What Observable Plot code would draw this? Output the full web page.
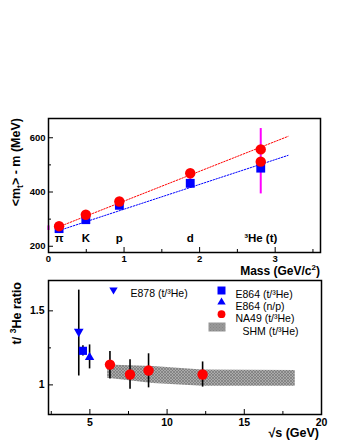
<!DOCTYPE html>
<html><head><meta charset="utf-8">
<script src="https://cdn.jsdelivr.net/npm/d3@7"></script>
<script src="https://cdn.jsdelivr.net/npm/@observablehq/plot@0.6"></script>
<style>
body{margin:0;background:#fff;}
#wrap{position:relative;width:345px;height:446px;}
#wrap svg{position:absolute;left:0;background:transparent;}
</style></head><body><div id="wrap"></div>
<script>
// ---------- top panel data ----------
const particles = ["π", "K", "p", "d", "³He (t)"];
const particleMass = [0.14, 0.494, 0.938, 1.876, 2.809];
const blueMt = [265, 298, 351, 432, 488];
const redMass = [0.14, 0.494, 0.938, 1.876, 2.809, 2.809];
const redMt = [274, 316, 365, 469, 557, 512];
const errMass = [0, 1.876, 2.809];
const errLo = [258, 414, 393];
const errHi = [275, 450, 634];
const fitMass = [0.14, 3.17];
const redFit = [272, 605];
const blueFit = [258, 535];
const topYMajor = [200, 400, 600];
const topYMinor = [300, 500];
const topXMajor = [1, 2, 3];
const topXMinor = [0.5, 1.5, 2.5, 3.5];
const topXLabels = [0, 1, 2, 3];

// ---------- bottom panel data ----------
const e878S = [4.28], e878R = [1.36], e878Lo = [1.06], e878Hi = [1.64];
const e864tS = [4.55], e864tR = [1.23], e864tLo = [1.195], e864tHi = [1.265];
const e864nS = [4.98], e864nR = [1.186], e864nLo = [1.108], e864nHi = [1.27];
const na49S = [6.3, 7.6, 8.8, 12.3];
const na49R = [1.137, 1.07, 1.097, 1.07];
const na49Lo = [1.04, 0.97, 0.98, 0.985];
const na49Hi = [1.225, 1.17, 1.21, 1.155];
const shmS = [6.15, 9.1, 12.3, 18.3];
const shmLo = [1.045, 1.01, 0.99, 0.99];
const shmHi = [1.135, 1.124, 1.10, 1.097];
const botXMajor = [5, 10, 15];
const botXMinor = [2.5, 7.5, 12.5, 17.5];
const botXLabels = [5, 10, 15, 20];
const botYMajor = [1, 1.5];
const botYMinor = [1.25];
const legendLabels = ["E878 (t/³He)", "E864 (t/³He)", "E864 (n/p)", "NA49 (t/³He)", "SHM (t/³He)"];

const FONT = "'Liberation Sans', Arial, Helvetica, sans-serif";
const BLUE = "#0000ff", RED = "#ff0000", MAG = "#ff00ff";

// ---------- top panel ----------
const T = {w: 345, h: 278, mt: 118, mb: 26, ml: 48, mr: 25};
const tInnerW = T.w - T.ml - T.mr, tInnerH = T.h - T.mt - T.mb;
const blueData = particleMass.map((m, i) => ({m, v: blueMt[i]}));
const redData = redMass.map((m, i) => ({m, v: redMt[i]}));
const errData = errMass.map((m, i) => ({m, lo: errLo[i], hi: errHi[i]}));
const redLine = fitMass.map((m, i) => ({m, v: redFit[i]}));
const blueLine = fitMass.map((m, i) => ({m, v: blueFit[i]}));

const topSvg = Plot.plot({
  width: T.w, height: T.h,
  marginTop: T.mt, marginBottom: T.mb, marginLeft: T.ml, marginRight: T.mr,
  style: {background: "transparent", fontFamily: FONT, color: "#000"},
  x: {domain: [0, 3.6]},
  y: {domain: [177, 671]},
  marks: [
    Plot.tickY(topYMajor, {y: d => d, insetRight: tInnerW - 5, stroke: "#000"}),
    Plot.tickY(topYMinor, {y: d => d, insetRight: tInnerW - 3, stroke: "#000"}),
    Plot.tickX(topXMajor, {x: d => d, insetTop: tInnerH - 5, stroke: "#000"}),
    Plot.tickX(topXMinor, {x: d => d, insetTop: tInnerH - 3, stroke: "#000"}),
    Plot.axisY({ticks: topYMajor, tickSize: 0, tickPadding: 3, fontSize: 9.5, fontWeight: "bold", label: null, tickFormat: d => String(d)}),
    Plot.axisX({ticks: topXLabels, tickSize: 0, tickPadding: 3, fontSize: 9.5, fontWeight: "bold", label: null, tickFormat: d => String(d)}),
    Plot.ruleX(errData, {x: "m", y1: "lo", y2: "hi", stroke: MAG, strokeWidth: 2}),
    Plot.line(blueLine, {x: "m", y: "v", stroke: BLUE, strokeWidth: 1, strokeDasharray: "1.5,1.5"}),
    Plot.line(redLine, {x: "m", y: "v", stroke: RED, strokeWidth: 1, strokeDasharray: "1.5,1.5"}),
    Plot.dot(blueData, {x: "m", y: "v", symbol: "square", r: 5, fill: BLUE, stroke: "none"}),
    Plot.dot(redData, {x: "m", y: "v", r: 5.2, fill: RED, stroke: "none"}),
    Plot.text(particles, {x: particleMass, text: d => d, frameAnchor: "bottom", dy: -11, fontSize: 11.5, fontWeight: "bold"}),
    Plot.frame({stroke: "#000", strokeWidth: 1.5})
  ]
});

// ---------- bottom panel ----------
const B = {top: 270, w: 345, h: 176, mt: 10, mb: 32, ml: 48, mr: 24};
const bInnerW = B.w - B.ml - B.mr, bInnerH = B.h - B.mt - B.mb;
const mk = (S, R, Lo, Hi) => S.map((s, i) => ({s, r: R[i], lo: Lo[i], hi: Hi[i]}));
const e878 = mk(e878S, e878R, e878Lo, e878Hi);
const e864t = mk(e864tS, e864tR, e864tLo, e864tHi);
const e864n = mk(e864nS, e864nR, e864nLo, e864nHi);
const na49 = mk(na49S, na49R, na49Lo, na49Hi);
const shm = shmS.map((s, i) => ({s, lo: shmLo[i], hi: shmHi[i]}));

const legText = (label, dx, dy) => Plot.text([label], {frameAnchor: "top-left", dx, dy, text: d => d, textAnchor: "start", fontSize: 10.5});

const botSvg = Plot.plot({
  width: B.w, height: B.h,
  marginTop: B.mt, marginBottom: B.mb, marginLeft: B.ml, marginRight: B.mr,
  style: {background: "transparent", fontFamily: FONT, color: "#000"},
  x: {domain: [2.32, 20]},
  y: {domain: [0.8, 1.705]},
  marks: [
    Plot.areaY(shm, {x: "s", y1: "lo", y2: "hi", fill: "url(#hatch)"}),
    Plot.tickY(botYMajor, {y: d => d, insetRight: bInnerW - 5, stroke: "#000"}),
    Plot.tickY(botYMinor, {y: d => d, insetRight: bInnerW - 3, stroke: "#000"}),
    Plot.tickX(botXMajor, {x: d => d, insetTop: bInnerH - 5, stroke: "#000"}),
    Plot.tickX(botXMinor, {x: d => d, insetTop: bInnerH - 3, stroke: "#000"}),
    Plot.axisY({ticks: botYMajor, tickSize: 0, tickPadding: 4, fontSize: 10.5, fontWeight: "bold", label: null, tickFormat: d => String(d)}),
    Plot.axisX({ticks: botXLabels, tickSize: 0, tickPadding: 4, fontSize: 10.5, fontWeight: "bold", label: null, tickFormat: d => String(d)}),
    Plot.ruleX([...e878, ...e864t, ...e864n, ...na49], {x: "s", y1: "lo", y2: "hi", stroke: "#000", strokeWidth: 1.6}),
    Plot.dot(e878, {x: "s", y: "r", symbol: "triangle", rotate: 180, r: 3.6, fill: BLUE, stroke: "none"}),
    Plot.dot(e864t, {x: "s", y: "r", symbol: "square", r: 4.6, fill: BLUE, stroke: "none"}),
    Plot.dot(e864n, {x: "s", y: "r", symbol: "triangle", r: 3.5, fill: BLUE, stroke: "none"}),
    Plot.dot(na49, {x: "s", y: "r", r: 5.2, fill: RED, stroke: "none"}),
    // legend
    Plot.dot([legendLabels[0]], {frameAnchor: "top-left", dx: 65, dy: 9.3, symbol: "triangle", rotate: 180, r: 3.1, fill: BLUE}),
    legText(legendLabels[0], 82, 9.3),
    Plot.dot([legendLabels[1]], {frameAnchor: "top-left", dx: 173, dy: 10, symbol: "square", r: 4.5, fill: BLUE}),
    legText(legendLabels[1], 187, 10),
    Plot.dot([legendLabels[2]], {frameAnchor: "top-left", dx: 173, dy: 21.7, symbol: "triangle", r: 3.1, fill: BLUE}),
    legText(legendLabels[2], 187, 21.7),
    Plot.dot([legendLabels[3]], {frameAnchor: "top-left", dx: 173, dy: 33.7, r: 3.9, fill: RED}),
    legText(legendLabels[3], 187, 33.7),
    Plot.frame({fill: "url(#hatch)", stroke: "none", insetLeft: 160, insetRight: bInnerW - 177, insetTop: 42, insetBottom: bInnerH - 51}),
    legText(legendLabels[4], 194, 46.7),
    Plot.frame({stroke: "#000", strokeWidth: 1.5})
  ]
});

// hatch pattern for SHM band
const defs = d3.select(botSvg).insert("defs", ":first-child");
const pat = defs.append("pattern").attr("id", "hatch").attr("patternUnits", "userSpaceOnUse").attr("width", 3).attr("height", 3);
pat.append("rect").attr("width", 3).attr("height", 3).attr("fill", "#aaaaaa");
pat.append("path").attr("d", "M0,3L3,0M0,0L3,3").attr("stroke", "#6e6e6e").attr("stroke-width", 0.6);

// axis titles (with sub/superscripts as real text)
function title(svg, transform, anchor, parts, size) {
  const t = d3.select(svg).append("text").attr("transform", transform).attr("text-anchor", anchor)
    .attr("font-family", FONT).attr("font-weight", "bold").attr("font-size", size).attr("fill", "#000");
  parts.forEach(([s, dy, fs]) => { const ts = t.append("tspan").text(s); if (dy) ts.attr("dy", dy); if (fs) ts.attr("font-size", fs); });
}
title(topSvg, "translate(20,118) rotate(-90)", "end", [["<m"], ["t", 3, 8.5], [">", -3], [" - m (MeV)"]], 12.5);
title(topSvg, "translate(320,275)", "end", [["Mass (GeV/c"], ["2", -5, 8], [")", 5]], 12);
title(botSvg, "translate(21,12) rotate(-90)", "end", [["t/ "], ["3", -5, 8.5], ["He ratio", 5]], 12.5);
title(botSvg, "translate(319,167)", "end", [["√s (GeV)"]], 12.5);

topSvg.style.top = "0px";
botSvg.style.top = B.top + "px";
const wrap = document.getElementById("wrap");
wrap.appendChild(topSvg);
wrap.appendChild(botSvg);
</script></body></html>
